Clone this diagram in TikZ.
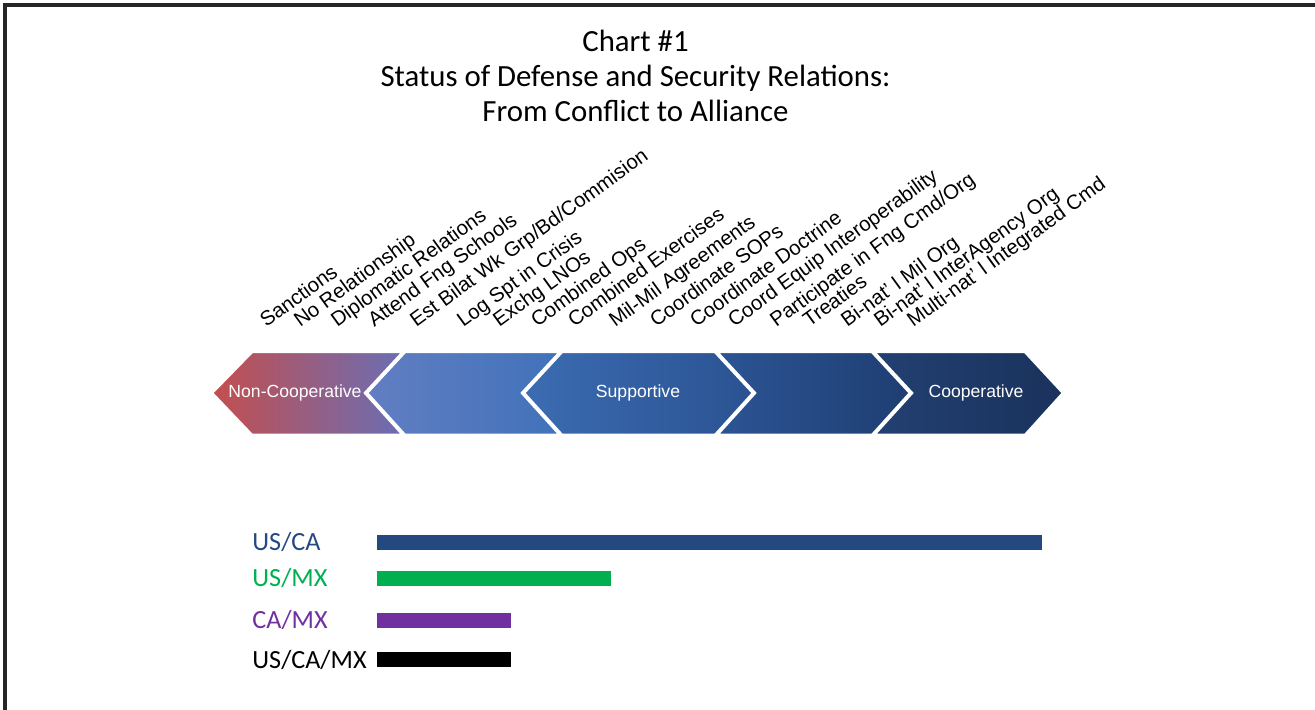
\documentclass[tikz,border=0pt]{standalone}
\usepackage{fontspec}
\setmainfont{Liberation Sans}
\newfontfamily\calib{Carlito}
\definecolor{cRed}{RGB}{196,78,78}
\definecolor{cPur}{RGB}{106,110,180}
\definecolor{cB1}{RGB}{98,126,194}
\definecolor{cB2}{RGB}{76,140,214}
\definecolor{cB3}{RGB}{64,114,186}
\definecolor{cB4}{RGB}{60,108,178}
\definecolor{cB5}{RGB}{42,82,146}
\definecolor{cB6}{RGB}{44,84,148}
\definecolor{cB7}{RGB}{30,62,114}
\definecolor{cB8}{RGB}{34,64,114}
\definecolor{cB9}{RGB}{26,50,92}
\definecolor{usca}{RGB}{36,72,128}
\definecolor{usmx}{RGB}{0,176,80}
\definecolor{camx}{RGB}{112,48,160}
\begin{document}
\begin{tikzpicture}[x=0.5pt,y=-0.5pt,
  lbl/.style={anchor=base west, rotate=36, inner sep=0pt, font=\fontsize{10.2}{11}\selectfont},
  seg/.style={draw=white, line width=1.25pt, line join=miter},
  segtxt/.style={text=white, inner sep=0pt, font=\fontsize{8.8}{10}\selectfont},
  ttl/.style={anchor=base, inner sep=0pt, font=\calib\fontsize{15.4}{17.5}\selectfont},
  barlbl/.style={anchor=west, inner sep=0pt, font=\calib\fontsize{13.1}{14}\selectfont},
  barline/.style={line width=7.5pt}]
\useasboundingbox (0,0) rectangle (1315,710);
% frame
\draw[line width=1.75pt, color=black!85] (5,710) -- (5,5) -- (1315,5);
% title
\node[ttl] (t1) at (635.5,52) {Chart \#1};
\node[ttl] (t2) at (635.5,87) {Status of Defense and Security Relations:};
\node[ttl] (t3) at (635.5,122) {From Conflict to Alliance};
% chevrons
\path[seg, left color=cRed, right color=cPur]
  (212,393) -- (252,352) -- (403,352) -- (365,393) -- (403,435) -- (252,435) -- cycle;
\path[seg, left color=cB1, middle color=cB2, right color=cB3]
  (367,393) -- (405,352) -- (560,352) -- (522,393) -- (560,435) -- (405,435) -- cycle;
\path[seg, left color=cB4, right color=cB5]
  (524,393) -- (562,352) -- (715,352) -- (753,393) -- (715,435) -- (562,435) -- cycle;
\path[seg, left color=cB6, right color=cB7]
  (717,352) -- (872,352) -- (910,393) -- (872,435) -- (717,435) -- (755,393) -- cycle;
\path[seg, left color=cB8, right color=cB9]
  (874,352) -- (1025,352) -- (1063,393) -- (1025,435) -- (874,435) -- (912,393) -- cycle;
\node[segtxt] (nc) at (295,393) {Non-Cooperative};
\node[segtxt] (sp) at (638,393) {Supportive};
\node[segtxt] (co) at (976,393) {Cooperative};
% rotated labels
\node[lbl] (l1) at (266,328) {Sanctions};
\node[lbl] (l2) at (300,328) {No Relationship};
\node[lbl] (l3) at (337,328) {Diplomatic Relations};
\node[lbl] (l4) at (374,328) {Attend Fng Schools};
\node[lbl] (l5) at (416,328) {Est Bilat Wk Grp/Bd/Commision};
\node[lbl] (l6) at (463,328) {Log Spt in Crisis};
\node[lbl] (l7) at (499,328) {Exchg LNOs};
\node[lbl] (l8) at (537,328) {Combined Ops};
\node[lbl] (l9) at (574,328) {Combined Exercises};
\node[lbl] (l10) at (615,328) {Mil-Mil Agreements};
\node[lbl] (l11) at (656,328) {Coordinate SOPs};
\node[lbl] (l12) at (696,328) {Coordinate Doctrine};
\node[lbl] (l13) at (734,328) {Coord Equip Interoperability};
\node[lbl] (l14) at (776,328) {Participate in Fng Cmd/Org};
\node[lbl] (l15) at (809,328) {Treaties};
\node[lbl] (l16) at (847,328) {Bi-nat’ l Mil Org};
\node[lbl] (l17) at (880,328) {Bi-nat’ l InterAgency Org};
\node[lbl] (l18) at (913,328) {Multi-nat’ l Integrated Cmd};
% bars
\node[barlbl, text=usca] (n1) at (252,542) {US/CA};
\node[barlbl, text=usmx] (n2) at (252,578) {US/MX};
\node[barlbl, text=camx] (n3) at (252,620) {CA/MX};
\node[barlbl, text=black] (n4) at (252,660) {US/CA/MX};
\coordinate (b1s) at (377,542); \coordinate (b1e) at (1042,542);
\coordinate (b2s) at (377,578); \coordinate (b2e) at (611,578);
\coordinate (b3s) at (377,620); \coordinate (b3e) at (511,620);
\coordinate (b4s) at (377,659); \coordinate (b4e) at (511,659);
\draw[barline, usca] (b1s) -- (b1e);
\draw[barline, usmx] (b2s) -- (b2e);
\draw[barline, camx] (b3s) -- (b3e);
\draw[barline, black] (b4s) -- (b4e);
\end{tikzpicture}
\end{document}
